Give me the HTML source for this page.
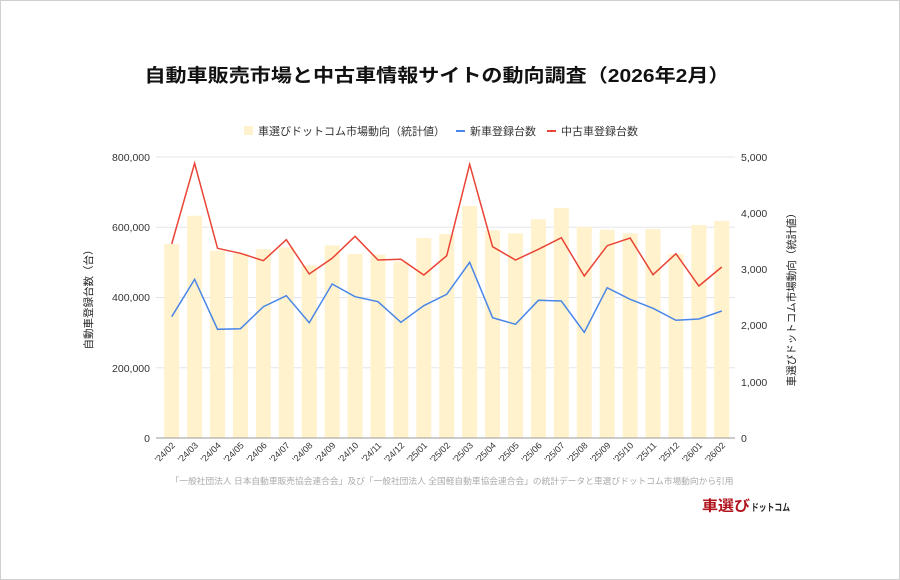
<!DOCTYPE html>
<html><head><meta charset="utf-8"><style>
html,body{margin:0;padding:0;background:#fff;}
svg{display:block;font-family:"Liberation Sans","Noto Sans CJK JP",sans-serif;}
</style></head><body>
<svg width="900" height="580" viewBox="0 0 900 580" xmlns="http://www.w3.org/2000/svg">
<rect x="0.5" y="0.5" width="899" height="579" fill="#fff" stroke="#d0d0d0"/>
<text x="437" y="82" font-size="18.5" font-weight="bold" text-anchor="middle" fill="#111" textLength="585" lengthAdjust="spacingAndGlyphs">自動車販売市場と中古車情報サイトの動向調査（2026年2月）</text>
<g font-size="11" fill="#333">
<rect x="244" y="126" width="9" height="9" fill="#fff2cc"/>
<text x="258" y="135">車選びドットコム市場動向（統計値）</text>
<rect x="456" y="130" width="9" height="2" fill="#4a86e8"/>
<text x="470" y="135">新車登録台数</text>
<rect x="547" y="130" width="9" height="2" fill="#e94435"/>
<text x="561" y="135">中古車登録台数</text>
</g>
<g stroke="#e5e5e5" stroke-width="1">
<line x1="156" y1="157" x2="735" y2="157"/>
<line x1="156" y1="227.25" x2="735" y2="227.25"/>
<line x1="156" y1="297.5" x2="735" y2="297.5"/>
<line x1="156" y1="367.75" x2="735" y2="367.75"/>
</g>
<g font-size="10.5" fill="#333" text-anchor="end">
<text x="150" y="161">800,000</text>
<text x="150" y="231">600,000</text>
<text x="150" y="301">400,000</text>
<text x="150" y="372">200,000</text>
<text x="150" y="442">0</text>
</g>
<g font-size="10.5" fill="#333">
<text x="741" y="161">5,000</text>
<text x="741" y="217">4,000</text>
<text x="741" y="273">3,000</text>
<text x="741" y="329">2,000</text>
<text x="741" y="386">1,000</text>
<text x="741" y="442">0</text>
</g>
<text transform="translate(92,297) rotate(-90)" font-size="10.5" fill="#222" text-anchor="middle">自動車登録台数（台）</text>
<text transform="translate(795,297) rotate(-90)" font-size="10.5" fill="#222" text-anchor="middle">車選びドットコム市場動向（統計値）</text>
<g id="bars" fill="#fff2cc"></g>
<line x1="156" y1="438" x2="735" y2="438" stroke="#999" stroke-width="1"/>
<polyline id="red" fill="none" stroke="#e94435" stroke-width="1.5"/>
<polyline id="blue" fill="none" stroke="#4a86e8" stroke-width="1.5"/>
<g id="xl" font-size="9" fill="#333" text-anchor="end"></g>
<text x="452" y="484" font-size="8.5" fill="#aaa" text-anchor="middle" textLength="563" lengthAdjust="spacingAndGlyphs">「一般社団法人 日本自動車販売協会連合会」及び「一般社団法人 全国軽自動車協会連合会」の統計データと車選びドットコム市場動向から引用</text>
<text x="702" y="511" font-size="14.5" font-weight="bold" fill="#b0141c" textLength="48" lengthAdjust="spacingAndGlyphs">車選び</text>
<text x="751" y="511" font-size="10" font-weight="bold" fill="#222" textLength="39" lengthAdjust="spacingAndGlyphs">ドットコム</text>
</svg>
<script>
var labels=["'24/02","'24/03","'24/04","'24/05","'24/06","'24/07","'24/08","'24/09","'24/10","'24/11","'24/12","'25/01","'25/02","'25/03","'25/04","'25/05","'25/06","'25/07","'25/08","'25/09","'25/10","'25/11","'25/12","'26/01","'26/02"];
var bar=[244,215.7,250.7,253.3,249,247.3,265.3,245.3,254,254.7,261.7,238,234,206,230.3,233.3,219.3,208,227,229.7,233.3,229,254,225,221];
var red=[244,163.3,248.3,253.3,260.7,239.7,274,258.3,236.3,260,259.3,275,255.7,164.3,246.7,260,249.3,237.7,276,245.7,238,274.7,253.7,286,267];
var blue=[316.7,279.3,329.3,328.7,306.7,295.7,322.7,284,296.7,301.7,322.3,305.7,294.3,262.3,317.7,324.3,300.3,301,332.3,287.7,299.3,308.3,320.3,319,311];
var ns="http://www.w3.org/2000/svg",b=document.getElementById("bars"),xl=document.getElementById("xl");
var rp=[],bp=[];
for(var i=0;i<25;i++){var cx=171.7+i*22.92;
var r=document.createElementNS(ns,"rect");r.setAttribute("x",cx-7.5);r.setAttribute("y",bar[i]);r.setAttribute("width",15);r.setAttribute("height",438-bar[i]);b.appendChild(r);
rp.push(cx+","+red[i]);bp.push(cx+","+blue[i]);
var t=document.createElementNS(ns,"text");t.setAttribute("transform","translate("+(cx+4)+",446) rotate(-45)");t.textContent=labels[i];xl.appendChild(t);}
document.getElementById("red").setAttribute("points",rp.join(" "));
document.getElementById("blue").setAttribute("points",bp.join(" "));
</script>
</body></html>
